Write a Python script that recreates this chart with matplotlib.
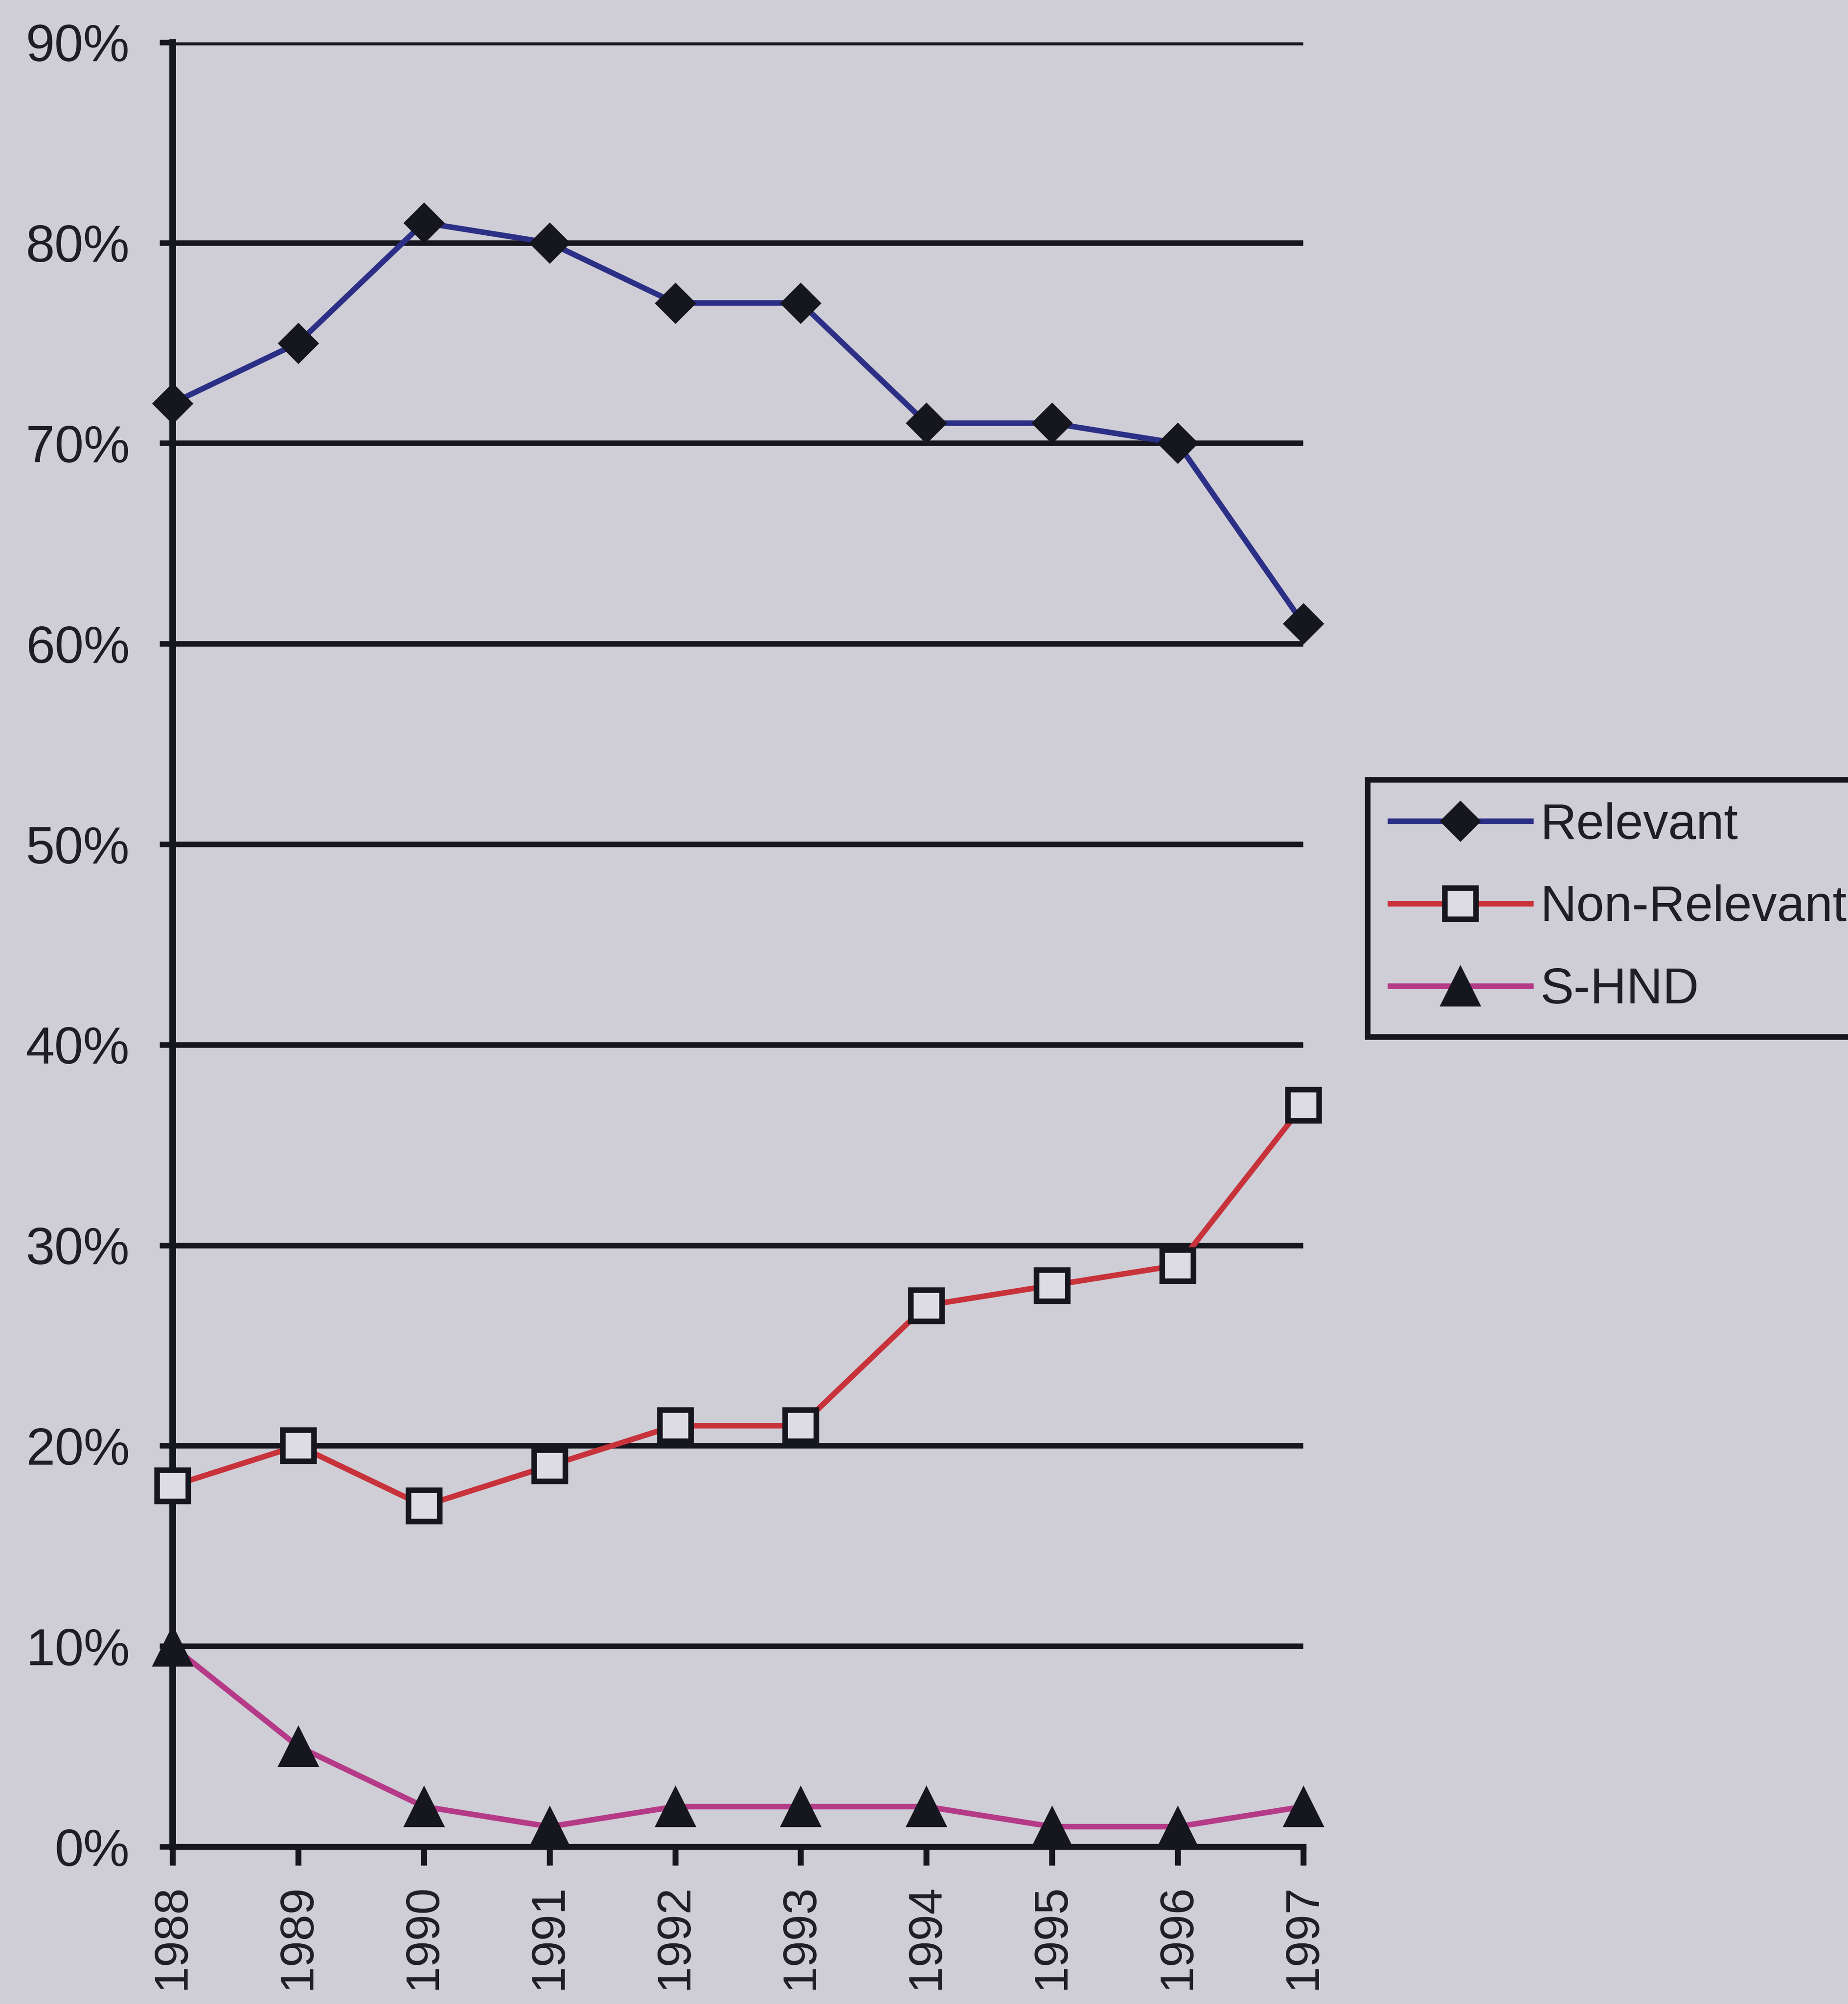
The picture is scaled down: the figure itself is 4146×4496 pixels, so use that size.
import matplotlib
matplotlib.use("Agg")
import matplotlib.pyplot as plt
from matplotlib.ticker import FuncFormatter, MultipleLocator

# Share of documents per year (percent)
years = [1988, 1989, 1990, 1991, 1992, 1993, 1994, 1995, 1996, 1997]
relevant = [72, 75, 81, 80, 77, 77, 71, 71, 70, 61]
non_relevant = [18, 20, 17, 19, 21, 21, 27, 28, 29, 37]
s_hnd = [10, 5, 2, 1, 2, 2, 2, 1, 1, 2]

bg = '#cfcdd5'
ink = '#16161e'

plt.rcParams['font.family'] = ['Liberation Sans', 'DejaVu Sans']

fig = plt.figure(figsize=(4146 / 300, 4496 / 300), dpi=300, facecolor=bg)
ax = fig.add_axes([0.0933, 0.0785, 0.612, 0.9004], facecolor=bg)

ax.plot(years, relevant, color='#2b2f86', lw=3, marker='D', ms=15,
        mfc=ink, mec=ink, mew=0.8, label='Relevant', clip_on=False, zorder=4)
ax.plot(years, non_relevant, color='#c8323a', lw=3, marker='s', ms=17,
        mfc='#dedce3', mec=ink, mew=3, label='Non-Relevant', clip_on=False, zorder=4)
ax.plot(years, s_hnd, color='#b53a87', lw=3, marker='^', ms=21,
        mfc=ink, mec=ink, mew=0.8, label='S-HND', clip_on=False, zorder=4)

ax.set_xlim(1988, 1997)
ax.set_ylim(0, 90)
ax.set_xticks(years)
ax.set_xticklabels([str(y) for y in years], rotation=90)
ax.yaxis.set_major_locator(MultipleLocator(10))
ax.yaxis.set_major_formatter(FuncFormatter(lambda v, p: f'{v:.0f}%'))

ax.grid(axis='y', color=ink, lw=3)
ax.set_axisbelow(True)
for s in ['top', 'right']:
    ax.spines[s].set_visible(False)
ax.spines['left'].set_linewidth(3.6)
ax.spines['bottom'].set_linewidth(3.2)
ax.spines['left'].set_color(ink)
ax.spines['bottom'].set_color(ink)

ax.tick_params(axis='y', length=7, width=3, color=ink, pad=16,
               labelsize=28, labelcolor='#1e1e24')
ax.tick_params(axis='x', length=10, width=3.2, color=ink, pad=10,
               labelsize=25.5, labelcolor='#1e1e24')

leg = ax.legend(loc='upper left', bbox_to_anchor=(0.740, 0.611),
                bbox_transform=fig.transFigure, borderaxespad=0,
                fontsize=27, handlelength=2.8, handletextpad=0.2,
                labelspacing=0.7, borderpad=0.45, fancybox=False,
                framealpha=1, facecolor=bg, edgecolor=ink)
leg.get_frame().set_linewidth(3)
for t in leg.get_texts():
    t.set_color('#1e1e24')

fig.savefig('out.png', dpi=300, facecolor=bg)
